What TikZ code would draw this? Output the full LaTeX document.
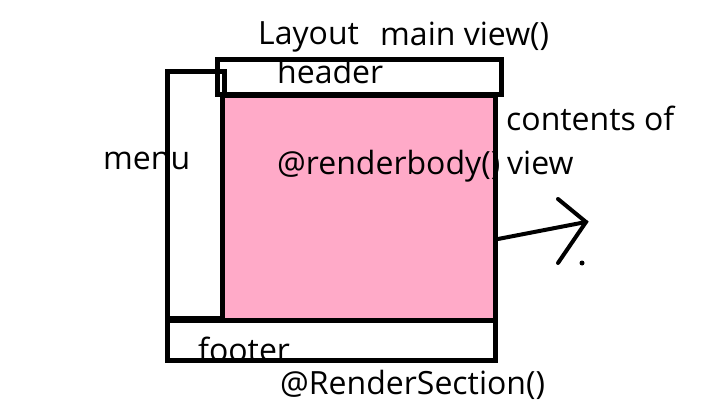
\documentclass[tikz,border=0pt]{standalone}
\usepackage{fontspec}
\setmainfont{Open Sans}
\usetikzlibrary{positioning}
\definecolor{bodypink}{RGB}{255,170,200}

\begin{document}
\begin{tikzpicture}[
            x=1pt, y=-1pt,
            box/.style={draw, line width=5pt, inner sep=0pt},
            lbl/.style={inner sep=0pt, anchor=base west, font=\fontsize{32}{34}\selectfont}
        ]
            \useasboundingbox (0,0) rectangle (720,417);

            % labels that sit under the frames
            \node[lbl] (menutxt) at (103,169) {menu};
            \node[lbl] (footertxt) at (198,361) {footer};

            \node[box, minimum width=57pt, minimum height=246pt] (menu) at (195.5,195) {};
            \node[box, fill=bodypink, minimum width=273pt, minimum height=224pt] (body) at (359,208) {};
            \node[box, minimum width=284pt, minimum height=35pt] (header) at (359,77.5) {};
            \node[box, minimum width=328pt, minimum height=40pt] (footer) at (331,340) {};

            \node[lbl] (layout) at (258,45) {Layout};
            \node[lbl] (mainview) at (380,46) {main view()};
            \node[lbl] (headertxt) at (277,84) {header};
            \node[lbl] (renderbody) at (277,174) {@renderbody()};
            \node[lbl] (contents) at (506,131) {contents of};
            \node[lbl] (view) at (507,175) {view};
            \node[lbl] (rendersection) at (280,394) {@RenderSection()};

            % hand drawn arrow
            \coordinate (tip) at (586,222);
            \coordinate (barb1) at (558,199);
            \coordinate (barb2) at (558,263);
            \draw[line width=4pt, line cap=round] ([yshift=-31pt]body.east) -- (tip);
            \draw[line width=4pt, line cap=round] (barb1) -- (tip) -- (barb2);
            \fill (582,263) circle (2.5pt);

        \end{tikzpicture}
\end{document}
